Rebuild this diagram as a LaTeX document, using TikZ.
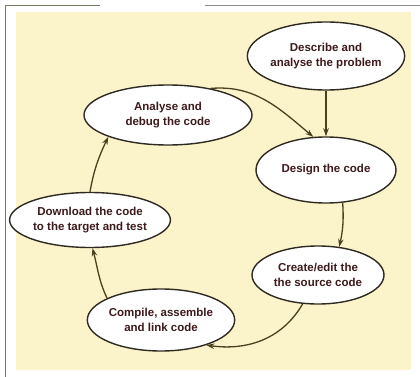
\documentclass[tikz,border=0pt]{standalone}
\usepackage{fontspec}
\usepackage{xcolor}
\usepackage{tikz}
\usetikzlibrary{
  arrows.meta,
  shapes.geometric,
  positioning
}
\newfontfamily\cyfont{Liberation Sans}
\definecolor{cyPanel}{HTML}{FBF4CB}
\definecolor{cyFrame}{HTML}{6F7D62}
\definecolor{cyText}{HTML}{3E1A1C}
\definecolor{cyFlow}{HTML}{4A4020}
\definecolor{cyEdge}{HTML}{2E2A22}
\tikzset{
  stagenode/.style={
    draw=cyEdge, ellipse, fill=white, line width=1.4pt, inner sep=0pt,
    align=center, text=cyText,
    font=\cyfont\bfseries\fontsize{11.5}{14.5}\selectfont
  },
  cycleflow/.style={-{Stealth[length=8pt, width=5.5pt]}, line width=1.3pt, cyFlow},
  frameline/.style={cyFrame, line width=0.9pt}
}

\begin{document}
\begin{tikzpicture}[x=1pt, y=-1pt]
  % page, frame and panel
  \useasboundingbox[fill=white] (0,0) rectangle (420,377);
  \draw[frameline] (5,377) -- (5,5) -- (100,5);
  \draw[frameline, black!45] (205,5) -- (420,5);
  \fill[cyPanel] (16,12) rectangle (411,370);

  % stages
  \node[stagenode, minimum width=136pt, minimum height=68pt] (describe) at (326,56) {Describe and\\analyse the problem};
  \node[stagenode, minimum width=168pt, minimum height=60pt] (debug) at (168,115) {Analyse and\\debug the code};
  \node[stagenode, minimum width=140pt, minimum height=66pt] (design) at (326,170) {Design the code};
  \node[stagenode, minimum width=134pt, minimum height=55pt] (download) at (90,220) {Download the code\\to the target and test};
  \node[stagenode, minimum width=132pt, minimum height=58pt] (create) at (318,275) {Create/edit the\\the source code};
  \node[stagenode, minimum width=136pt, minimum height=62pt] (compile) at (161,320) {Compile, assemble\\and link code};

  % flows
  \draw[cycleflow] (describe) -- (design);
  \draw[cycleflow] (debug.32) to[out=5, in=140] (design.111);
  \draw[cycleflow] (design.-63) to[bend left=8] (create.53);
  \draw[cycleflow] (create.-118) to[out=-120, in=-8] (compile.-29);
  \draw[cycleflow] (compile.158) to[out=115, in=-75] (download.-85);
  \draw[cycleflow] (download.90) to[out=80, in=-115] (debug.-160);
\end{tikzpicture}
\end{document}
